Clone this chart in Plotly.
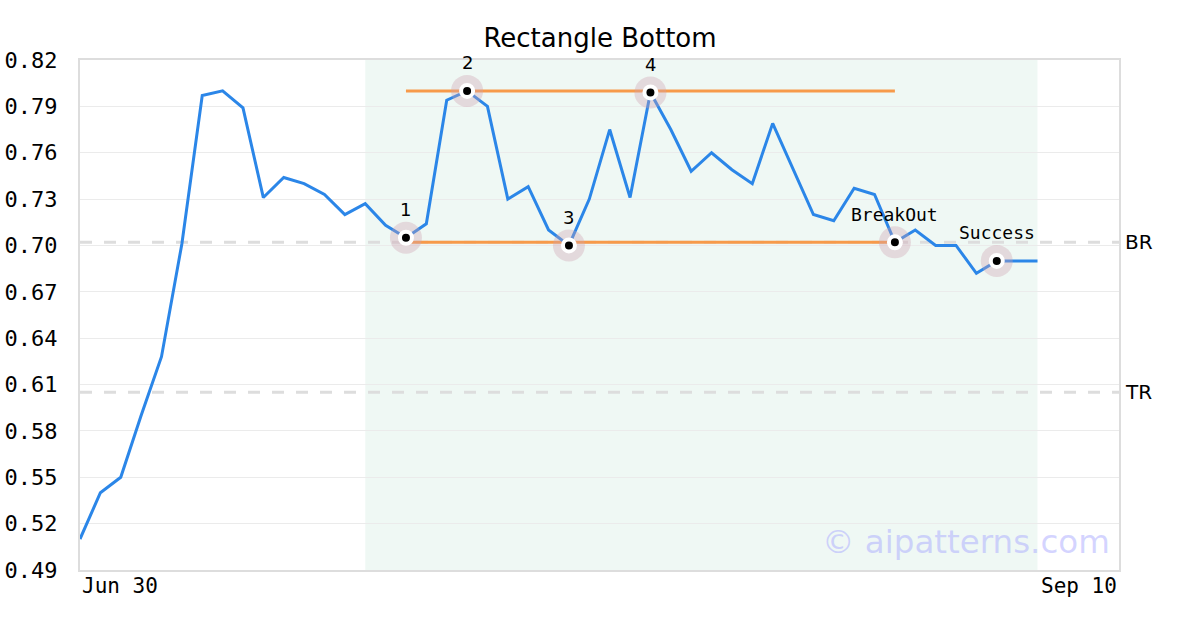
import plotly.graph_objects as go

# ---- data ----
prices = [0.510, 0.540, 0.550, 0.590, 0.628, 0.701, 0.797, 0.800, 0.789, 0.731,
          0.744, 0.740, 0.733, 0.720, 0.727, 0.713, 0.705, 0.714, 0.794, 0.800,
          0.790, 0.730, 0.738, 0.710, 0.700, 0.730, 0.775, 0.731, 0.799, 0.775,
          0.748, 0.760, 0.749, 0.740, 0.779, 0.749, 0.720, 0.716, 0.737, 0.733,
          0.702, 0.710, 0.700, 0.700, 0.682, 0.690, 0.690, 0.690]
x_idx = list(range(len(prices)))
axis_end = 51
date_labels = ["Jun 30", "Sep 10"]

pattern_start, pattern_end = 14, 47
rect_top = 0.800
rect_bottom = 0.702
rect_x0, rect_x1 = 16, 40
br_level = 0.702
tr_level = 0.605

point_labels = ["1", "2", "3", "4", "BreakOut", "Success"]
point_idx = [16, 19, 24, 28, 40, 45]
point_val = [prices[i] for i in point_idx]

mono = "DejaVu Sans Mono"
sans = "DejaVu Sans"

fig = go.Figure()

# rectangle lines
fig.add_trace(go.Scatter(x=[rect_x0, rect_x1], y=[rect_top, rect_top], mode="lines",
                         line=dict(color="#f79a4a", width=3), hoverinfo="skip"))
fig.add_trace(go.Scatter(x=[rect_x0, rect_x1], y=[rect_bottom, rect_bottom], mode="lines",
                         line=dict(color="#f79a4a", width=3), hoverinfo="skip"))

# price line
fig.add_trace(go.Scatter(x=x_idx, y=prices, mode="lines",
                         line=dict(color="#2b86e8", width=3), hoverinfo="skip"))

# halos
fig.add_trace(go.Scatter(x=point_idx, y=point_val, mode="markers",
                         marker=dict(size=32, color="rgba(205,160,175,0.35)", line=dict(width=0)),
                         hoverinfo="skip"))
# points
fig.add_trace(go.Scatter(x=point_idx, y=point_val, mode="markers",
                         marker=dict(size=12, color="black", line=dict(width=4, color="white")),
                         hoverinfo="skip"))

# shapes
fig.add_shape(type="rect", xref="x", yref="paper", x0=pattern_start, x1=pattern_end, y0=0, y1=1,
              fillcolor="rgba(215,238,228,0.4)", line=dict(width=0), layer="below")
for lvl in (br_level, tr_level):
    fig.add_shape(type="line", xref="paper", yref="y", x0=0, x1=1, y0=lvl, y1=lvl,
                  line=dict(color="#dddddd", width=3, dash="12px,12px"), layer="below")

# annotations
for lab, xi, yv in zip(point_labels, point_idx, point_val):
    is_word = len(lab) > 1
    fig.add_annotation(x=xi, y=yv, text=lab, showarrow=False, yshift=28,
                       font=dict(family=mono if is_word else sans, size=18, color="black"))

fig.add_annotation(xref="paper", yref="y", x=1, y=br_level, text="BR", showarrow=False,
                   xanchor="left", xshift=4, font=dict(family=sans, size=20, color="black"))
fig.add_annotation(xref="paper", yref="y", x=1, y=tr_level, text="TR", showarrow=False,
                   xanchor="left", xshift=4, font=dict(family=sans, size=20, color="black"))

fig.add_annotation(xref="x", yref="paper", x=0, y=0, text=date_labels[0], showarrow=False,
                   xanchor="left", yanchor="top", yshift=-2,
                   font=dict(family=mono, size=21, color="black"))
fig.add_annotation(xref="x", yref="paper", x=axis_end, y=0, text=date_labels[1], showarrow=False,
                   xanchor="right", yanchor="top", yshift=-2,
                   font=dict(family=mono, size=21, color="black"))

fig.add_annotation(xref="paper", yref="paper", x=0.993, y=0.055, text="© aipatterns.com",
                   showarrow=False, xanchor="right", yanchor="middle",
                   font=dict(family=sans, size=32.5, color="rgba(170,170,255,0.5)"))

yticks = [0.49 + 0.03 * k for k in range(12)]
fig.update_layout(
    width=1200, height=630,
    margin=dict(l=80, r=81, t=60, b=60, autoexpand=False),
    paper_bgcolor="white", plot_bgcolor="white",
    showlegend=False,
    title=dict(text="Rectangle Bottom", x=0.5, xanchor="center", y=0.94, yanchor="middle",
               font=dict(family=sans, size=26, color="black")),
    xaxis=dict(range=[0, axis_end], showgrid=False, showticklabels=False, zeroline=False,
               showline=True, linecolor="#dddddd", linewidth=2, mirror=True, ticks="",
               automargin=False),
    yaxis=dict(range=[0.49, 0.82], tickvals=yticks, ticktext=[f"{v:.2f}" for v in yticks],
               showgrid=True, gridcolor="#ebebeb", gridwidth=1, zeroline=False,
               showline=True, linecolor="#dddddd", linewidth=2, mirror=True,
               ticks="", ticklabelstandoff=16, automargin=False,
               tickfont=dict(family=mono, size=22, color="black")),
)

fig.write_html("out.html", post_script="document.body.style.margin='0';",
               config={"displayModeBar": False})
